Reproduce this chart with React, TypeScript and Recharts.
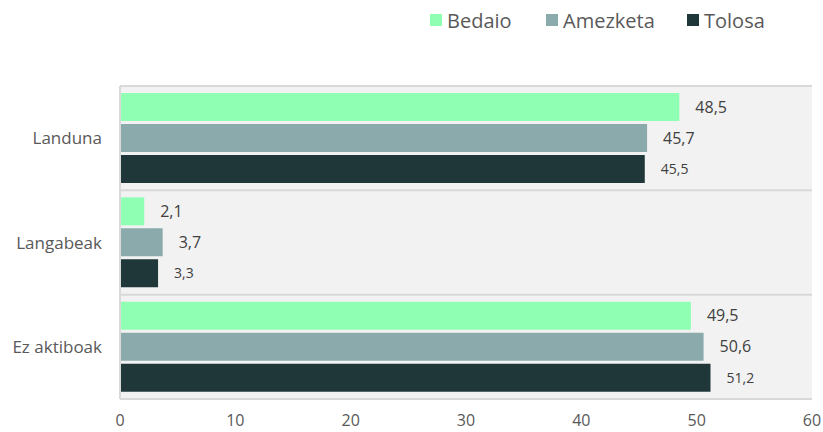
import React from 'react';
import { BarChart, Bar, XAxis, YAxis, CartesianGrid, LabelList } from 'recharts';

const categories = ['Landuna', 'Langabeak', 'Ez aktiboak'];
const bedaio = [48.5, 2.1, 49.5];
const amezketa = [45.7, 3.7, 50.6];
const tolosa = [45.5, 3.3, 51.2];
const xTicks = [0, 10, 20, 30, 40, 50, 60];

const series = [
  { key: 'Bedaio', color: '#8fffb4', legendX: 430 },
  { key: 'Amezketa', color: '#8aaaac', legendX: 546 },
  { key: 'Tolosa', color: '#1f3739', legendX: 687 },
];

const data = categories.map((name, i) => ({
  name,
  Bedaio: bedaio[i],
  Amezketa: amezketa[i],
  Tolosa: tolosa[i],
}));

const font = '"Open Sans", sans-serif';
const fmt = (v: any) => String(v).replace('.', ',');

const App = () => {
  return (
    <div style={{ position: 'absolute', left: 0, top: 0, width: 823, height: 432, background: '#fff' }}>
      {series.map((s) => (
        <div
          key={s.key}
          style={{
            position: 'absolute',
            left: s.legendX,
            top: 6,
            height: 28,
            display: 'flex',
            alignItems: 'center',
            fontFamily: font,
            fontSize: 20,
            color: '#595959',
            whiteSpace: 'nowrap',
          }}
        >
          <span style={{ width: 12, height: 12, background: s.color, display: 'inline-block', marginRight: 5 }} />
          <span>{s.key}</span>
        </div>
      ))}
      <BarChart
        width={823}
        height={432}
        data={data}
        layout="vertical"
        margin={{ top: 86, right: 11, left: 0, bottom: 0 }}
        barGap={3}
        barSize={28}
      >
        <CartesianGrid
          fill="#f2f2f2"
          stroke="#d9d9d9"
          strokeWidth={2}
          vertical={false}
          horizontalCoordinatesGenerator={({ offset }: any) =>
            [0, 1, 2, 3].map((i) => offset.top + (i * offset.height) / 3)
          }
        />
        <XAxis
          type="number"
          domain={[0, 60]}
          ticks={xTicks}
          axisLine={false}
          tickLine={false}
          height={33}
          tickMargin={10}
          tick={{ fontSize: 16, fill: '#595959', fontFamily: font }}
        />
        <YAxis
          type="category"
          dataKey="name"
          width={120}
          axisLine={{ stroke: '#d9d9d9', strokeWidth: 2 }}
          tickLine={false}
          tickMargin={12}
          tick={{ fontSize: 17, fill: '#595959', fontFamily: font }}
        />
        {series.map((s) => (
          <Bar key={s.key} dataKey={s.key} fill={s.color} isAnimationActive={false}>
            <LabelList
              dataKey={s.key}
              position="right"
              offset={16}
              formatter={fmt}
              style={{ fontSize: s.key === 'Tolosa' ? 14 : 16, fill: '#404040', fontFamily: font }}
            />
          </Bar>
        ))}
      </BarChart>
    </div>
  );
};

export default App;
